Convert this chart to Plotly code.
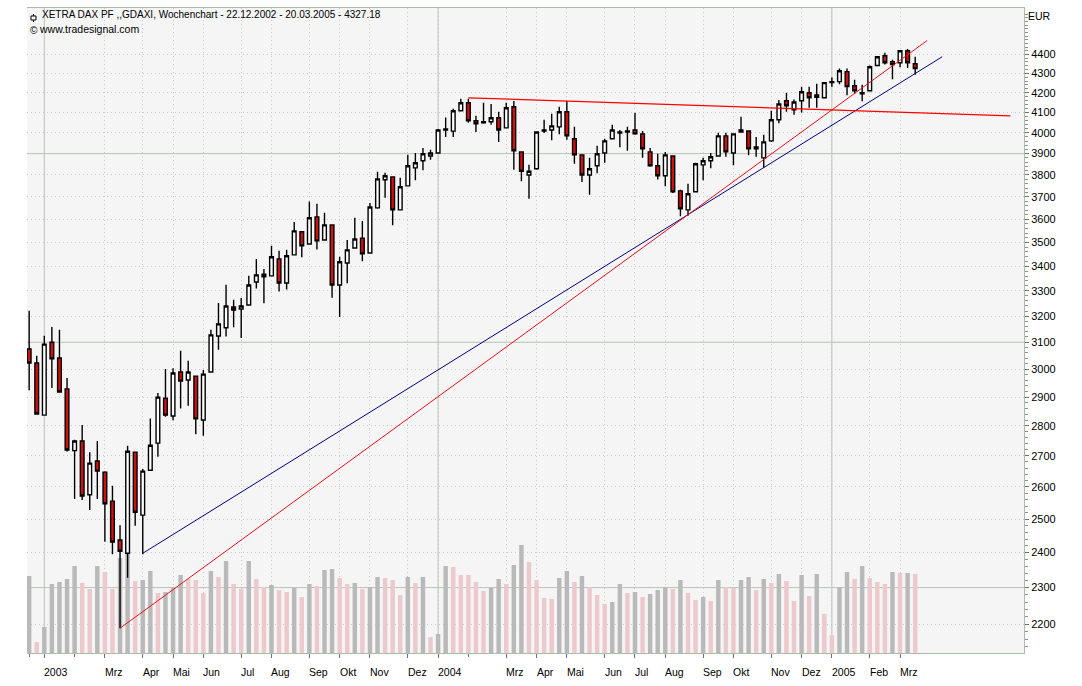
# XETRA DAX weekly candles with volume and hand drawn trend lines

import math
import pandas as pd
import plotly.graph_objects as go

weeks = pd.date_range("2002-12-22", periods=118, freq="7D")

open_ = [3075,3023,2837,3100,3041,2929,2717,2749,2575,2683,2647,2555,2437,2398,2712,2512,2653,2742,2896,2834,
         2990,2961,2975,2820,2990,3124,3155,3236,3228,3244,3336,3368,3361,3431,3332,3448,3546,3494,3611,3511,
         3576,3324,3414,3477,3519,3456,3651,3778,3791,3642,3750,3833,3866,3889,3903,4014,4008,4109,4149,4059,
         4049,4054,4074,4024,4129,3908,3800,3829,4009,4014,4029,4104,3971,3894,3800,3843,3903,3971,3999,4004,
         4014,3995,3908,3843,3796,3889,3727,3642,3723,3847,3866,3889,3985,3903,4004,4009,3923,3880,3961,4064,
         4159,4114,4159,4200,4189,4174,4252,4257,4309,4236,4195,4210,4341,4393,4362,4356,4420,4351]
high = [3221,3050,3125,3158,3148,2968,2753,2803,2712,2749,2650,2603,2481,2733,2712,2657,2825,2914,3001,3004,
        3068,3031,2975,2997,3148,3252,3325,3265,3272,3361,3431,3389,3486,3465,3469,3589,3546,3679,3669,3629,
        3576,3440,3511,3607,3593,3673,3815,3810,3791,3787,3894,3903,3927,3918,4019,4075,4119,4169,4169,4084,
        4149,4143,4104,4149,4158,3908,3847,4004,4064,4094,4129,4158,4029,3894,3880,3937,3971,4039,4014,4029,
        4098,4009,3927,3899,3908,3889,3732,3759,3857,3880,3903,4000,4000,3995,4079,4009,3980,3990,4109,4163,
        4200,4165,4231,4231,4246,4252,4278,4325,4325,4267,4241,4341,4388,4409,4372,4420,4430,4388]
low = [2924,2841,2837,2932,2918,2714,2562,2559,2528,2562,2432,2395,2189,2328,2480,2395,2653,2697,2831,2819,
       2860,2870,2772,2767,2990,3072,3122,3157,3116,3244,3310,3251,3361,3298,3306,3448,3438,3494,3470,3511,
       3273,3197,3331,3477,3421,3456,3647,3696,3574,3642,3750,3776,3822,3871,3903,3980,3980,4109,4049,4004,
       4044,4039,3955,4024,3824,3771,3691,3824,3999,3964,3993,3966,3852,3768,3709,3808,3857,3971,3930,3913,
       3990,3880,3838,3779,3748,3718,3614,3616,3723,3776,3831,3889,3885,3845,4000,3892,3885,3833,3956,4047,
       4104,4089,4100,4124,4124,4174,4231,4243,4187,4195,4156,4210,4338,4346,4269,4332,4328,4293]
close = [3023,2841,3093,3038,2918,2719,2749,2571,2676,2650,2547,2431,2404,2715,2521,2650,2735,2900,2837,2986,
         2957,2990,2824,2982,3128,3170,3240,3224,3240,3324,3365,3357,3440,3332,3444,3550,3486,3607,3507,3576,
         3324,3419,3469,3515,3452,3655,3782,3796,3642,3746,3843,3857,3899,3903,4014,4019,4109,4149,4059,4044,
         4054,4074,4014,4124,3913,3817,3817,4004,4014,4034,4104,3985,3894,3800,3829,3899,3961,4014,4004,4009,
         3995,3923,3843,3796,3894,3723,3647,3714,3852,3866,3885,3985,3908,3995,4014,3923,3932,3956,4064,4143,
         4134,4153,4205,4174,4176,4252,4257,4314,4231,4210,4200,4335,4388,4356,4346,4420,4356,4325]

# volume in arbitrary units, g = grey bar, p = pink bar
volume = [77,11,26,69,71,74,87,70,64,87,81,64,95,100,72,73,82,60,61,66,
          78,74,73,60,82,76,92,69,64,92,74,66,68,63,61,65,56,69,67,83,
          84,75,69,70,64,66,76,75,73,58,76,70,76,16,19,87,86,78,78,71,
          62,65,74,69,88,108,91,73,55,54,75,82,71,77,66,58,49,51,69,60,
          61,56,59,63,66,64,73,60,53,56,52,73,66,65,73,76,63,74,70,79,
          72,52,78,57,79,39,18,66,81,74,87,75,71,69,81,80,80,79]
volume_kind = list("gpgggggppg" "ppggpggpgg" "gpppgpgppg" "ppgppgpgpg" "gppgpggppp"
                   "gpgpggpppp" "pggpggpppp" "ggpgpppggp" "gpgggpgppg" "pgppggpgpg"
                   "ppgpgppggp" "gpppgpgp")

blue_x = ["2003-04-06", "2005-04-14"]
blue_y = [2398, 4388]
red_x = ["2003-03-16", "2005-03-31"]
red_y = [2189, 4475]
flat_x = ["2004-02-01", "2005-06-16"]
flat_y = [4174, 4083]

month_dates = ["2003-01-05","2003-03-02","2003-04-06","2003-05-04","2003-06-01","2003-07-06","2003-08-03",
               "2003-09-07","2003-10-05","2003-11-02","2003-12-07","2004-01-04","2004-03-07","2004-04-04",
               "2004-05-02","2004-06-06","2004-07-04","2004-08-01","2004-09-05","2004-10-03","2004-11-07",
               "2004-12-05","2005-01-02","2005-02-06","2005-03-06"]
month_labels = ["2003","Mrz","Apr","Mai","Jun","Jul","Aug","Sep","Okt","Nov","Dez","2004","Mrz","Apr",
                "Mai","Jun","Jul","Aug","Sep","Okt","Nov","Dez","2005","Feb","Mrz"]
unlabelled_dates = ["2002-12-22", "2003-02-02", "2004-02-01"]
year_lines = ["2003-01-05", "2004-01-04", "2005-01-02"]

price_ticks = list(range(2200, 4500, 100))
price_minor = list(range(2140, 4640, 20))
strong_prices = [2300, 3100, 3900]

title = "XETRA DAX PF ,,GDAXI, Wochenchart - 22.12.2002 - 20.03.2005 - 4327.18"
FONT = "Liberation Sans"
FRAME = "#a9bda9"
GRID = "#c8c8c8"
STRONG = "#b2c6b0"

fig = go.Figure()

fig.add_trace(go.Bar(x=weeks, y=volume, width=4.1 * 86400000, yaxis="y",
                     marker=dict(color=["#b9b9b9" if k == "g" else "#ecc9cc" for k in volume_kind], line_width=0)))

fig.add_trace(go.Candlestick(x=weeks, open=open_, high=high, low=low, close=close, yaxis="y2",
                             whiskerwidth=0,
                             increasing=dict(fillcolor="#ffffff", line=dict(color="#000000", width=1.4)),
                             decreasing=dict(fillcolor="#d40f0f", line=dict(color="#000000", width=1.4))))

fig.add_trace(go.Scatter(x=blue_x, y=blue_y, mode="lines", yaxis="y2", line=dict(color="#000080", width=1)))
fig.add_trace(go.Scatter(x=red_x, y=red_y, mode="lines", yaxis="y2", line=dict(color="#e8101c", width=1)))
fig.add_trace(go.Scatter(x=flat_x, y=flat_y, mode="lines", yaxis="y2", line=dict(color="#ff0000", width=1.2)))

shapes = []
for d in year_lines:
    shapes.append(dict(type="line", xref="x", yref="paper", x0=d, x1=d, y0=0, y1=1, layer="below",
                       line=dict(color=STRONG, width=1)))
for p in strong_prices:
    shapes.append(dict(type="line", xref="paper", yref="y2", x0=0, x1=1, y0=p, y1=p, layer="below",
                       line=dict(color=STRONG, width=1)))
# little candle in front of the title
shapes.append(dict(type="line", xref="paper", yref="paper", x0=0.0065, x1=0.0065, y0=0.9907, y1=0.9783,
                   line=dict(color="#000000", width=1)))
shapes.append(dict(type="rect", xref="paper", yref="paper", x0=0.0040, x1=0.0090, y0=0.9876, y1=0.9814,
                   fillcolor="#ffffff", line=dict(color="#000000", width=1)))

annotations = [dict(xref="x", yref="paper", x=d, y=0, xshift=-2, yshift=-11, text=t, showarrow=False,
                    xanchor="left", yanchor="top", font=dict(family=FONT, size=10.5, color="#000000"))
               for d, t in zip(month_dates, month_labels)]
annotations += [
    dict(xref="paper", yref="paper", x=0.0128, y=1.0015, text=title, showarrow=False, xanchor="left", yanchor="top",
         font=dict(family=FONT, size=10, color="#000000")),
    dict(xref="paper", yref="paper", x=0.0100, y=0.9795, text="www.tradesignal.com", showarrow=False,
         xanchor="left", yanchor="top", font=dict(family=FONT, size=10.5, color="#000000")),
    dict(xref="paper", yref="paper", x=0.0015, y=0.9765, text="©", showarrow=False,
         xanchor="left", yanchor="top", font=dict(family=FONT, size=10, color="#000000")),
    dict(xref="paper", yref="paper", x=1.002, y=1.000, text="EUR", showarrow=False, xanchor="left", yanchor="top",
         font=dict(family=FONT, size=10.5, color="#000000")),
]

fig.update_layout(
    width=1082, height=686,
    margin=dict(l=27, r=58, t=8, b=33),
    paper_bgcolor="#ffffff", plot_bgcolor="#f5f5f5",
    showlegend=False,
    shapes=shapes, annotations=annotations,
    xaxis=dict(type="date", range=["2002-12-20", "2005-06-28 14:00"], rangeslider=dict(visible=False),
               tickmode="array", tickvals=month_dates, showticklabels=False,
               ticks="outside", ticklen=4, tickcolor="#707070",
               showgrid=True, gridcolor=GRID, griddash="1px,3px", gridwidth=1,
               minor=dict(tickmode="array", tickvals=unlabelled_dates, ticks="outside", ticklen=3,
                          tickcolor="#707070", showgrid=False),
               showline=True, linecolor=FRAME, linewidth=1, mirror=True, zeroline=False),
    yaxis=dict(range=[0, 645], visible=False, fixedrange=True),
    yaxis2=dict(type="log", range=[math.log10(2124), math.log10(4656)], overlaying="y", side="right",
                tickmode="array", tickvals=price_ticks, ticktext=[str(p) for p in price_ticks],
                tickfont=dict(family=FONT, size=11, color="#000000"),
                ticks="outside", ticklen=4, tickcolor="#707070",
                showgrid=True, gridcolor=GRID, griddash="1px,3px", gridwidth=1,
                minor=dict(tickmode="array", tickvals=price_minor, ticks="outside", ticklen=3,
                           tickcolor="#909090", showgrid=False),
                showline=True, linecolor=FRAME, linewidth=1, zeroline=False),
)

fig.write_html("out.html", config=dict(displayModeBar=False),
               post_script="document.body.style.margin='0';")
